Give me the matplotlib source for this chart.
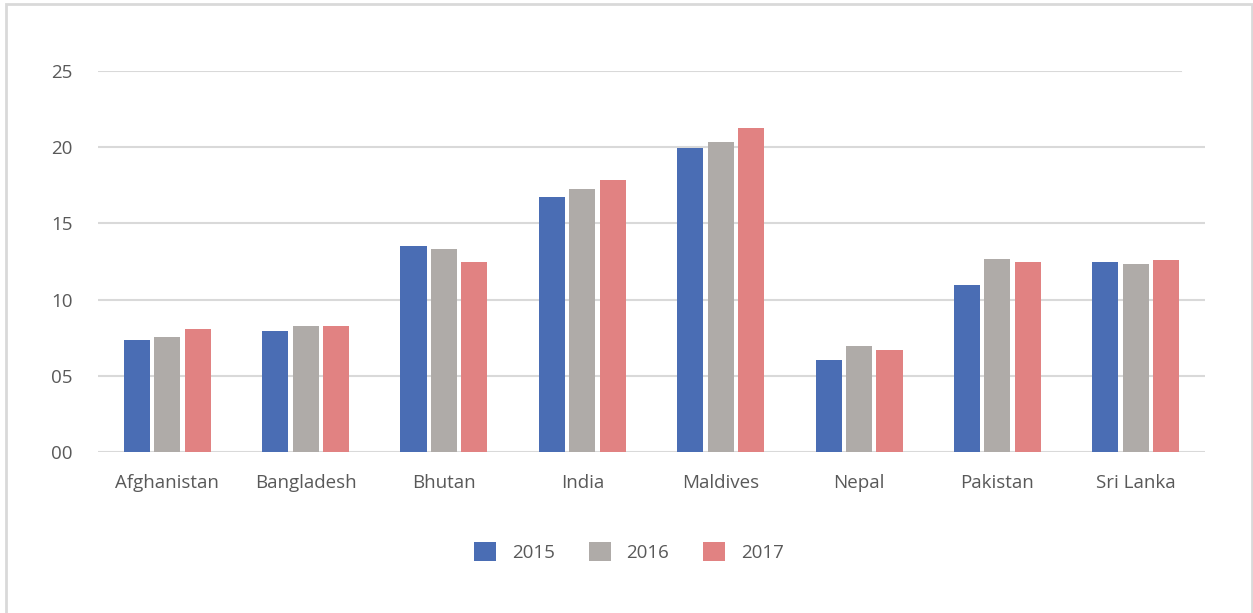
import numpy as np
import matplotlib.pyplot as plt
from matplotlib.patches import Rectangle

countries = ["Afghanistan", "Bangladesh", "Bhutan", "India", "Maldives", "Nepal", "Pakistan", "Sri Lanka"]
years = ["2015", "2016", "2017"]
v2015 = [7.35, 7.94, 13.52, 16.73, 19.95, 6.04, 10.96, 12.47]
v2016 = [7.55, 8.27, 13.32, 17.26, 20.34, 6.96, 12.66, 12.34]
v2017 = [8.07, 8.27, 12.47, 17.85, 21.26, 6.69, 12.47, 12.60]
yticks = [0, 5, 10, 15, 20, 25]
ytick_labels = ["00", "05", "10", "15", "20", "25"]

colors = ["#4a6db4", "#afaba8", "#e18282"]
text_col = "#595959"
grid_col = "#d9d9d9"

plt.rcParams["font.family"] = ["Open Sans", "DejaVu Sans"]
fs = 13.5

fig = plt.figure(figsize=(12.53, 6.13), dpi=100)
ax = fig.add_axes([98 / 1253, 1 - 452 / 613, 1107 / 1253, (452 - 71) / 613])

x = np.arange(len(countries))
width = 0.188
step = 0.22
for i, (vals, yr) in enumerate(zip([v2015, v2016, v2017], years)):
    ax.bar(x + (i - 1) * step, vals, width, color=colors[i], label=yr, zorder=3)

ax.set_xlim(-0.5, len(countries) - 0.5)
ax.set_ylim(0, 25)

# gridlines (top one is a bit shorter in the original)
for t in yticks:
    xmax = 0.978 if t == 25 else 1.0
    ax.axhline(t, xmin=0, xmax=xmax, color=grid_col, lw=1.5, zorder=1)

ax.set_yticks(yticks)
ax.set_yticklabels(ytick_labels)
ax.set_xticks(x)
ax.set_xticklabels(countries)
ax.tick_params(axis="both", length=0, labelsize=fs, colors=text_col)
ax.tick_params(axis="y", pad=18)
ax.tick_params(axis="x", pad=16)
for s in ax.spines.values():
    s.set_visible(False)

leg = fig.legend(loc="center", bbox_to_anchor=(629 / 1253, 1 - 552 / 613), ncol=3,
                 frameon=False, fontsize=fs, handlelength=1.17, handleheight=1.17,
                 columnspacing=1.8, handletextpad=0.85)
for t in leg.get_texts():
    t.set_color(text_col)

fig.patches.append(Rectangle((6 / 1253, -0.01), 1246 / 1253, 1 - 4 / 613 + 0.01,
                             transform=fig.transFigure, fill=False,
                             edgecolor=grid_col, lw=2))

fig.savefig("out.png", dpi=100)
